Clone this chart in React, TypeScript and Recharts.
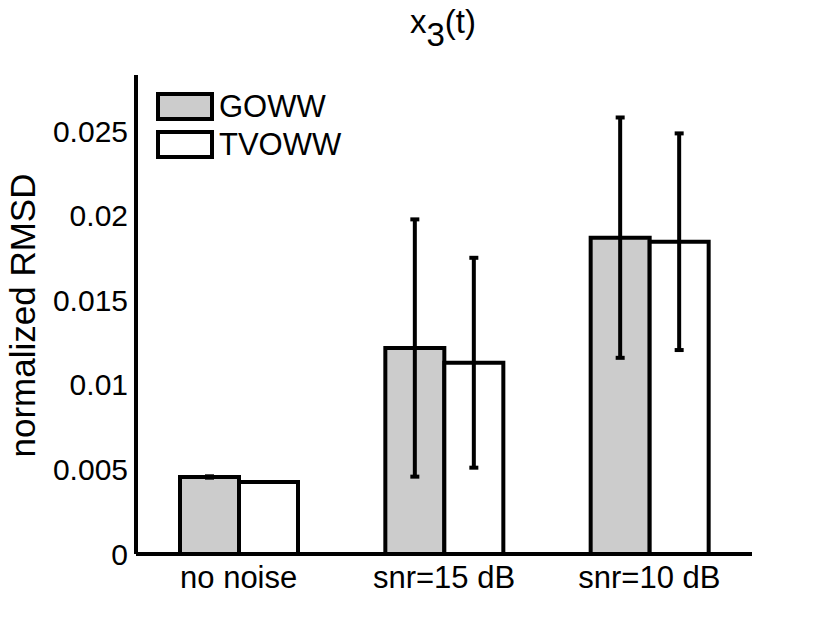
import React from 'react';
import { BarChart, Bar, XAxis, YAxis, ErrorBar, Legend } from 'recharts';

const categories = ['no noise', 'snr=15 dB', 'snr=10 dB'];
const gowwValues = [0.00455, 0.01217, 0.01869];
const gowwErrors = [0.00004, 0.0076, 0.0071];
const tvowwValues = [0.00425, 0.0113, 0.01845];
const tvowwErrors = [0, 0.0062, 0.0064];
const yTicks = [0, 0.005, 0.01, 0.015, 0.02, 0.025];

const seriesNames = ['GOWW', 'TVOWW'];
const seriesFills = ['#cccccc', '#ffffff'];

const data = categories.map((name, i) => ({
  name,
  GOWW: gowwValues[i],
  gowwErr: gowwErrors[i],
  TVOWW: tvowwValues[i],
  tvowwErr: tvowwErrors[i],
}));

const FONT = '"Liberation Sans", Arial, Helvetica, sans-serif';
const LINE = 4;

const renderLegend = () => (
  <div style={{ display: 'flex', flexDirection: 'column', gap: 9 }}>
    {seriesNames.map((name, i) => (
      <div key={name} style={{ display: 'flex', alignItems: 'center', height: 29 }}>
        <span
          style={{
            display: 'inline-block',
            boxSizing: 'border-box',
            width: 58,
            height: 29,
            border: `${LINE}px solid #000`,
            background: seriesFills[i],
          }}
        />
        <span style={{ marginLeft: 5, fontSize: 31, lineHeight: '29px', color: '#000', fontFamily: FONT }}>
          {name}
        </span>
      </div>
    ))}
  </div>
);

const renderYLabel = (props: any) => {
  const vb = props.viewBox || { x: 0, y: 75, width: 136, height: 479 };
  const x = vb.x + 22;
  const y = vb.y + vb.height / 2 + 1;
  return (
    <text
      x={x}
      y={y}
      transform={`rotate(-90 ${x} ${y})`}
      textAnchor="middle"
      dominantBaseline="central"
      fontSize={35}
      fontFamily={FONT}
      fill="#000"
    >
      normalized RMSD
    </text>
  );
};

export default function App() {
  return (
    <div style={{ position: 'absolute', left: 0, top: 0, width: 830, height: 624, background: '#fff', fontFamily: FONT }}>
      <div
        style={{
          position: 'absolute',
          left: 343,
          top: 5,
          width: 200,
          textAlign: 'center',
          fontSize: 33,
          lineHeight: '33px',
          color: '#000',
        }}
      >
        x<span style={{ position: 'relative', top: 13 }}>3</span>(t)
      </div>
      <BarChart
        width={830}
        height={624}
        data={data}
        margin={{ top: 75, right: 78, bottom: 0, left: 0 }}
        barGap={0}
        style={{ fontFamily: FONT }}
      >
        <XAxis
          dataKey="name"
          height={70}
          axisLine={{ stroke: '#000', strokeWidth: LINE }}
          tickLine={false}
          tickSize={0}
          tickMargin={12}
          tick={{ fill: '#000', fontSize: 31 }}
        />
        <YAxis
          type="number"
          domain={[0, 0.0283]}
          ticks={yTicks}
          width={136}
          axisLine={{ stroke: '#000', strokeWidth: LINE }}
          tickLine={false}
          tickSize={0}
          tickMargin={8}
          tick={{ fill: '#000', fontSize: 30 }}
          label={renderYLabel}
        />
        <Legend
          layout="vertical"
          align="center"
          verticalAlign="middle"
          content={renderLegend}
          wrapperStyle={{ left: 156, top: 92, width: 'auto' }}
        />
        <Bar dataKey="GOWW" fill={seriesFills[0]} stroke="#000" strokeWidth={LINE} barSize={59} isAnimationActive={false}>
          <ErrorBar dataKey="gowwErr" width={4.5} strokeWidth={LINE} stroke="#000" />
        </Bar>
        <Bar dataKey="TVOWW" fill={seriesFills[1]} stroke="#000" strokeWidth={LINE} barSize={59} isAnimationActive={false}>
          <ErrorBar dataKey="tvowwErr" width={4.5} strokeWidth={LINE} stroke="#000" />
        </Bar>
      </BarChart>
    </div>
  );
}
